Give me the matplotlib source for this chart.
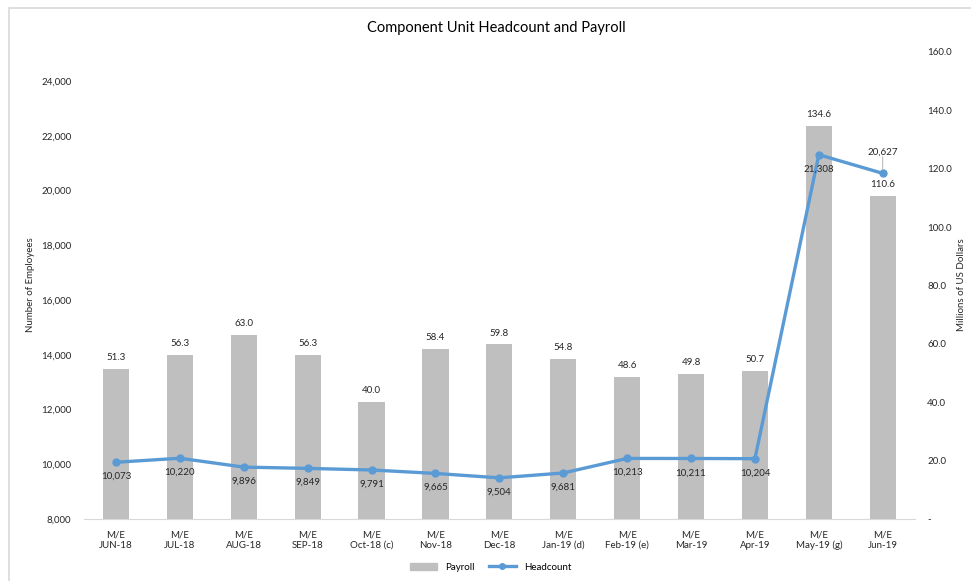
import matplotlib.pyplot as plt
from matplotlib.lines import Line2D
import matplotlib.patches as mpatches

plt.rcParams['font.family'] = ['Lato', 'DejaVu Sans']

TEXT = "#262626"
GRID = "#D9D9D9"
BAR = "#BFBFBF"
LINE = "#5B9BD5"

months = ["M/E\nJUN-18", "M/E\nJUL-18", "M/E\nAUG-18", "M/E\nSEP-18", "M/E\nOct-18 (c)",
          "M/E\nNov-18", "M/E\nDec-18", "M/E\nJan-19 (d)", "M/E\nFeb-19 (e)", "M/E\nMar-19",
          "M/E\nApr-19", "M/E\nMay-19 (g)", "M/E\nJun-19"]
payroll = [51.3, 56.3, 63.0, 56.3, 40.0, 58.4, 59.8, 54.8, 48.6, 49.8, 50.7, 134.6, 110.6]
headcount = [10073, 10220, 9896, 9849, 9791, 9665, 9504, 9681, 10213, 10211, 10204, 21308, 20627]

left_ticks = list(range(8000, 24001, 2000))
right_ticks = list(range(0, 161, 20))

fig = plt.figure(figsize=(9.71, 5.81), dpi=100)
ax = fig.add_axes([0.0865, 0.1067, 0.8555, 0.8038])
ax2 = ax.twinx()

x = list(range(len(months)))

# payroll bars on the right axis
ax2.bar(x, payroll, width=0.41, color=BAR, zorder=2)
ax2.set_ylim(0, 160)
ax2.set_yticks(right_ticks)
ax2.set_yticklabels(["-" if v == 0 else f"{v:.1f}" for v in right_ticks])
for xi, v in zip(x, payroll):
    ax2.annotate(f"{v:.1f}", (xi, v), xytext=(0, 5), textcoords="offset points",
                 ha="center", va="bottom", fontsize=7, color=TEXT)

# headcount line on the left axis, drawn above the bars
ax.set_zorder(ax2.get_zorder() + 1)
ax.patch.set_visible(False)
ax.plot(x, headcount, color=LINE, lw=2.4, marker="o", ms=5, zorder=3)
ax.set_ylim(8000, 25060)
ax.set_yticks(left_ticks)
ax.set_yticklabels([f"{v:,}" for v in left_ticks])
ax.set_xlim(-0.5, len(months) - 0.5)
ax.set_xticks(x)
ax.set_xticklabels(months)
for i, (xi, v) in enumerate(zip(x, headcount)):
    if i == len(headcount) - 1:
        ax.annotate(f"{v:,}", (xi, v), xytext=(0, 12), textcoords="offset points",
                    ha="center", va="bottom", fontsize=7, color=TEXT)
        ax.annotate("", (xi, v), xytext=(0, 12), textcoords="offset points",
                    arrowprops=dict(arrowstyle="-", color="#A6A6A6", lw=0.6,
                                    shrinkA=0, shrinkB=3))
    else:
        ax.annotate(f"{v:,}", (xi, v), xytext=(0, -7), textcoords="offset points",
                    ha="center", va="top", fontsize=7, color=TEXT)

for a in (ax, ax2):
    for s in a.spines.values():
        s.set_visible(False)
    a.tick_params(length=0, labelsize=7, colors=TEXT)
ax.spines["bottom"].set_visible(True)
ax.spines["bottom"].set_color(GRID)
ax.tick_params(axis="y", pad=9)
ax2.tick_params(axis="y", pad=9)
ax.tick_params(axis="x", pad=8)

fig.text(0.031, 0.51, "Number of Employees", rotation=90, ha="center", va="center",
         fontsize=7, color=TEXT)
fig.text(0.990, 0.51, "Millions of US Dollars", rotation=90, ha="center", va="center",
         fontsize=7, color=TEXT)
fig.text(0.511, 0.952, "Component Unit Headcount and Payroll", ha="center", va="center",
         fontsize=10.5, color="#000000")

handles = [mpatches.Patch(color=BAR, label="Payroll"),
           Line2D([0], [0], color=LINE, lw=2.4, marker="o", ms=4, label="Headcount")]
fig.legend(handles=handles, loc="center", bbox_to_anchor=(0.505, 0.024), ncol=2,
           frameon=False, fontsize=7, handlelength=2.8, columnspacing=1.5)

fig.add_artist(mpatches.Rectangle((0.009, -0.01), 1.0, 0.997, transform=fig.transFigure,
                                  fill=False, edgecolor=GRID, lw=1.2))

fig.savefig("out.png", dpi=100)
